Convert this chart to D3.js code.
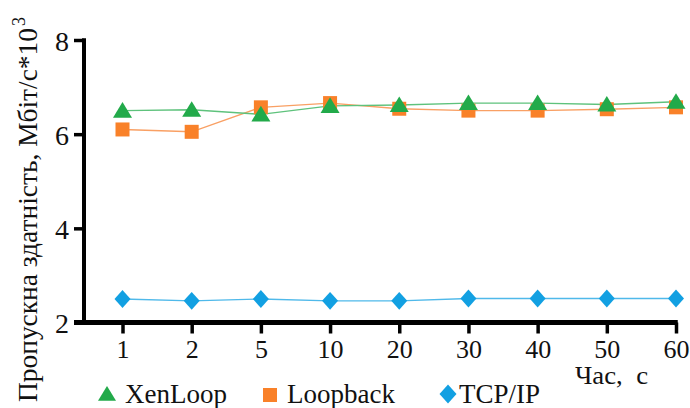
<!DOCTYPE html>
<html>
<head>
<meta charset="utf-8">
<script src="https://cdn.jsdelivr.net/npm/d3@7"></script>
<style>
  body { margin: 0; background: #fff; }
  svg text { font-family: "Liberation Serif", "Times New Roman", serif; fill: #111; }
</style>
</head>
<body>
<svg id="vis" width="690" height="408">
  <text transform="translate(37,402) rotate(-90)" textLength="374" lengthAdjust="spacingAndGlyphs"
        style="font-family:'Liberation Serif';font-size:28px">Пропускна здатність, Мбіт/с*10</text>
  <text transform="translate(25,26) rotate(-90)" style="font-family:'Liberation Serif';font-size:18px">3</text>
  <text x="575" y="384" textLength="73" lengthAdjust="spacingAndGlyphs" xml:space="preserve"
        style="font-family:'Liberation Serif';font-size:26px">Час,  с</text>
</svg>
<script>
var categories = ["1", "2", "5", "10", "20", "30", "40", "50", "60"];
var xenloop  = [6.50, 6.52, 6.42, 6.60, 6.62, 6.66, 6.66, 6.63, 6.69];
var loopback = [6.10, 6.05, 6.57, 6.66, 6.54, 6.50, 6.50, 6.53, 6.57];
var tcpip    = [2.50, 2.46, 2.50, 2.46, 2.46, 2.51, 2.51, 2.51, 2.51];
var yTicks = [2, 4, 6, 8];

var FONT = "Liberation Serif";
var axisX = 84;

var svg = d3.select("#vis");

var xScale = d3.scalePoint()
    .domain(categories)
    .range([122.5, 676]);

var yScale = d3.scaleLinear()
    .domain([2, 8])
    .range([322.5, 40]);

// custom marker shapes (size = width in px)
var triangle = {draw: function (ctx, s) {
    ctx.moveTo(0, -s * 0.45); ctx.lineTo(s * 0.5, s * 0.37); ctx.lineTo(-s * 0.5, s * 0.37); ctx.closePath();
}};
var square = {draw: function (ctx, s) {
    ctx.rect(-s / 2, -s / 2, s, s);
}};
var diamond = {draw: function (ctx, s) {
    ctx.moveTo(0, -s * 0.56); ctx.lineTo(s * 0.5, 0); ctx.lineTo(0, s * 0.56); ctx.lineTo(-s * 0.5, 0); ctx.closePath();
}};

var series = [
    {name: "TCP/IP", values: tcpip, color: "#12a0e2", line: "#4fb9ea", shape: diamond, size: 16, lsize: 17},
    {name: "Loopback", values: loopback, color: "#f98129", line: "#f9a064", shape: square, size: 14, lsize: 14},
    {name: "XenLoop", values: xenloop, color: "#22aa4a", line: "#5ec27c", shape: triangle, size: 19, lsize: 18}
];

function serif(sel, size) {
    sel.attr("font-family", FONT)
        .style("font-family", FONT)
        .style("font-size", size + "px")
        .attr("fill", "#111");
}

// axes
var yAxis = d3.axisLeft(yScale).tickValues(yTicks).tickSize(10).tickPadding(5).tickFormat(d3.format("d"));
var gy = svg.append("g")
    .attr("transform", "translate(" + axisX + ",0)")
    .call(yAxis)
    .attr("font-family", FONT);
gy.select(".domain").remove();
gy.selectAll("line").attr("stroke", "#000").attr("stroke-width", 3.5);
gy.selectAll("text").call(serif, 28).attr("dy", "0.36em");
gy.append("line")
    .attr("x1", 0).attr("x2", 0)
    .attr("y1", yScale(8) - 1.75).attr("y2", yScale(2) + 2)
    .attr("stroke", "#000").attr("stroke-width", 4);

var xAxis = d3.axisBottom(xScale).tickSize(11);
var gx = svg.append("g")
    .attr("transform", "translate(0," + yScale(2) + ")")
    .call(xAxis)
    .attr("font-family", FONT);
gx.select(".domain").remove();
gx.selectAll("line").attr("stroke", "#000").attr("stroke-width", 3.5);
gx.selectAll("text").call(serif, 26).attr("y", 35).attr("dy", 0);
gx.append("line")
    .attr("x1", axisX - 10).attr("x2", xScale("60") + 1.75)
    .attr("y1", 0).attr("y2", 0)
    .attr("stroke", "#000").attr("stroke-width", 5);

// lines and markers
var line = d3.line()
    .x(function (d, i) { return xScale(categories[i]); })
    .y(function (d) { return yScale(d); });

series.forEach(function (s) {
    svg.append("path")
        .datum(s.values)
        .attr("fill", "none")
        .attr("stroke", s.line)
        .attr("stroke-width", 1.4)
        .attr("d", line);
});

series.forEach(function (s) {
    svg.selectAll(".m-" + s.name.replace("/", ""))
        .data(s.values)
        .enter().append("path")
        .attr("transform", function (d, i) {
            return "translate(" + xScale(categories[i]) + "," + yScale(d) + ")";
        })
        .attr("d", d3.symbol().type(s.shape).size(s.size))
        .attr("fill", s.color);
});

// legend
var legendItems = [
    {s: series[2], x: 107, y: 394, tx: 125},
    {s: series[1], x: 270, y: 395, tx: 287},
    {s: series[0], x: 448, y: 394, tx: 459}
];
var legend = svg.selectAll(".legend")
    .data(legendItems)
    .enter().append("g")
    .attr("class", "legend");

legend.append("path")
    .attr("transform", function (d) { return "translate(" + d.x + "," + d.y + ")"; })
    .attr("d", function (d) { return d3.symbol().type(d.s.shape).size(d.s.lsize)(); })
    .attr("fill", function (d) { return d.s.color; });

legend.append("text")
    .attr("x", function (d) { return d.tx; })
    .attr("y", 403)
    .call(serif, 27)
    .text(function (d) { return d.s.name; });
</script>
</body>
</html>
